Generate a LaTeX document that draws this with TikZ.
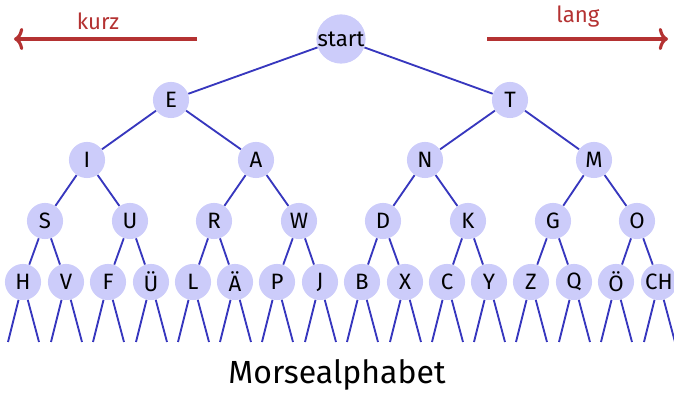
\documentclass[tikz,border=0pt]{standalone}
\usepackage{fontspec}
\setmainfont{Fira Sans}
\usepackage{tikz}
\usetikzlibrary{arrows.meta,positioning}
\definecolor{knotfill}{RGB}{204,204,250}
\definecolor{kante}{RGB}{55,55,190}
\definecolor{pfeil}{RGB}{180,50,50}
\tikzset{
  knot/.style={circle,fill=knotfill,inner sep=0pt,minimum size=19.5pt,font=\large},
  wurzel/.style={knot,minimum size=24.5pt},
  ast/.style={draw=kante,line width=1pt},
  richtung/.style={draw=pfeil,line width=1.7pt,-{To[length=5pt,width=12pt]}}
}
\begin{document}
\begin{tikzpicture}[x=0.54pt,y=-0.54pt]
        \useasboundingbox (0,0) rectangle (674,393);

        \node[wurzel] (start) at (341, 39) {start};

        \node[knot] (e) at (171, 100) {E};
        \node[knot] (t) at (510, 100) {T};

        \node[knot] (i) at (87, 160) {I};
        \node[knot] (a) at (256, 160) {A};
        \node[knot] (n) at (425, 160) {N};
        \node[knot] (m) at (594, 160) {M};

        \node[knot] (s) at (45, 221) {S};
        \node[knot] (u) at (130, 221) {U};
        \node[knot] (r) at (214, 221) {R};
        \node[knot] (w) at (299, 221) {W};
        \node[knot] (d) at (383, 221) {D};
        \node[knot] (k) at (468, 221) {K};
        \node[knot] (g) at (553, 221) {G};
        \node[knot] (o) at (637, 221) {O};

        \node[knot] (h) at (23, 282) {H};
        \node[knot] (v) at (66, 282) {V};
        \node[knot] (f) at (108, 282) {F};
        \node[knot] (ue) at (151, 282) {Ü};
        \node[knot] (l) at (193, 282) {L};
        \node[knot] (ae) at (235, 282) {Ä};
        \node[knot] (p) at (277, 282) {P};
        \node[knot] (j) at (320, 282) {J};
        \node[knot] (b) at (362, 282) {B};
        \node[knot] (x) at (405, 282) {X};
        \node[knot] (c) at (447, 282) {C};
        \node[knot] (y) at (489, 282) {Y};
        \node[knot] (z) at (531, 282) {Z};
        \node[knot] (q) at (574, 282) {Q};
        \node[knot] (oe) at (616, 282) {Ö};
        \node[knot] (ch) at (659, 282) {CH};

        \draw[ast] (e) -- (start) -- (t);
        \draw[ast] (i) -- (e) -- (a);
        \draw[ast] (n) -- (t) -- (m);
        \draw[ast] (s) -- (i) -- (u);
        \draw[ast] (r) -- (a) -- (w);
        \draw[ast] (d) -- (n) -- (k);
        \draw[ast] (g) -- (m) -- (o);
        \draw[ast] (h) -- (s) -- (v);
        \draw[ast] (f) -- (u) -- (ue);
        \draw[ast] (l) -- (r) -- (ae);
        \draw[ast] (p) -- (w) -- (j);
        \draw[ast] (b) -- (d) -- (x);
        \draw[ast] (c) -- (k) -- (y);
        \draw[ast] (z) -- (g) -- (q);
        \draw[ast] (oe) -- (o) -- (ch);

        % offene Enden unter der letzten Reihe
        \coordinate (h1) at (8, 342);   \coordinate (h2) at (39, 342);
        \coordinate (v1) at (51, 342);  \coordinate (v2) at (82, 342);
        \coordinate (f1) at (93, 342);  \coordinate (f2) at (124, 342);
        \coordinate (ue1) at (136, 342); \coordinate (ue2) at (167, 342);
        \coordinate (l1) at (178, 342); \coordinate (l2) at (209, 342);
        \coordinate (ae1) at (220, 342); \coordinate (ae2) at (251, 342);
        \coordinate (p1) at (262, 342); \coordinate (p2) at (293, 342);
        \coordinate (j1) at (305, 342); \coordinate (j2) at (336, 342);
        \coordinate (b1) at (347, 342); \coordinate (b2) at (378, 342);
        \coordinate (x1) at (390, 342); \coordinate (x2) at (421, 342);
        \coordinate (c1) at (432, 342); \coordinate (c2) at (463, 342);
        \coordinate (y1) at (474, 342); \coordinate (y2) at (505, 342);
        \coordinate (z1) at (516, 342); \coordinate (z2) at (547, 342);
        \coordinate (q1) at (559, 342); \coordinate (q2) at (590, 342);
        \coordinate (oe1) at (601, 342); \coordinate (oe2) at (632, 342);
        \coordinate (ch1) at (644, 342); \coordinate (ch2) at (675, 342);

        \draw[ast] (h1) -- (h) -- (h2);
        \draw[ast] (v1) -- (v) -- (v2);
        \draw[ast] (f1) -- (f) -- (f2);
        \draw[ast] (ue1) -- (ue) -- (ue2);
        \draw[ast] (l1) -- (l) -- (l2);
        \draw[ast] (ae1) -- (ae) -- (ae2);
        \draw[ast] (p1) -- (p) -- (p2);
        \draw[ast] (j1) -- (j) -- (j2);
        \draw[ast] (b1) -- (b) -- (b2);
        \draw[ast] (x1) -- (x) -- (x2);
        \draw[ast] (c1) -- (c) -- (c2);
        \draw[ast] (y1) -- (y) -- (y2);
        \draw[ast] (z1) -- (z) -- (z2);
        \draw[ast] (q1) -- (q) -- (q2);
        \draw[ast] (oe1) -- (oe) -- (oe2);
        \draw[ast] (ch1) -- (ch) -- (ch2);

        % Richtungen
        \coordinate (kurzA) at (197, 39);
        \coordinate (kurzB) at (14, 39);
        \coordinate (langA) at (487, 39);
        \coordinate (langB) at (668, 39);
        \draw[richtung] (kurzA) -- (kurzB);
        \draw[richtung] (langA) -- (langB);
        \node[text=pfeil,font=\large] (kurz) at (98, 21) {kurz};
        \node[text=pfeil,font=\large] (lang) at (578, 17) {lang};

        \node[font=\LARGE] (titel) at (337, 375) {Morsealphabet};
      \end{tikzpicture}
\end{document}
